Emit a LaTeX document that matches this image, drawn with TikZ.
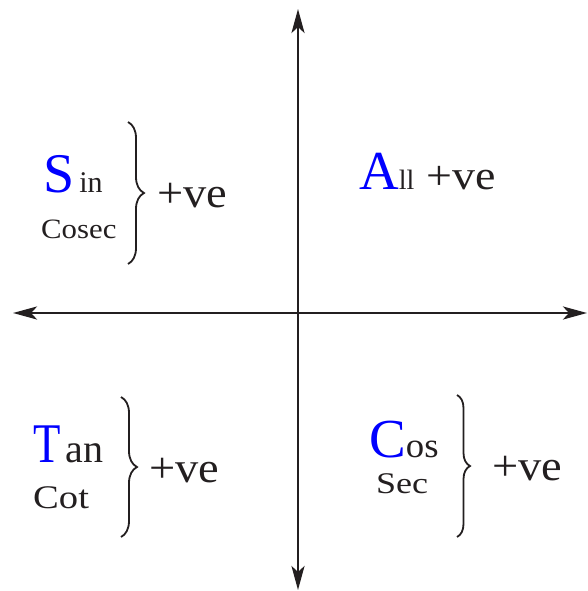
\documentclass[tikz,border=0pt]{standalone}
\usepackage{fontspec}
\setmainfont{Liberation Serif}
\usetikzlibrary{arrows.meta,decorations.pathreplacing}
\definecolor{ink}{HTML}{231F20}
\definecolor{letter}{HTML}{0000FF}
\newcommand{\fs}[2]{\fontsize{#1pt}{#1pt}\selectfont\addfontfeature{FakeStretch=#2}}
\tikzset{
  axis/.style={draw=ink, line width=2.7pt, {Stealth[length=24pt,width=13pt,inset=6pt]}-{Stealth[length=24pt,width=13pt,inset=6pt]}},
  lbl/.style={inner sep=0pt, anchor=base west, text=ink},
  bracebox/.style={draw=ink, line width=1.8pt, decorate, decoration={brace, amplitude=#1}},
}
\begin{document}
\begin{tikzpicture}[x=1pt,y=-1pt]
\useasboundingbox (0,0) rectangle (587,591);
\coordinate (top) at (298,9);
\coordinate (bot) at (298,590);
\coordinate (lft) at (13,313);
\coordinate (rgt) at (587,313);
\draw[axis] (bot) -- (top);
\draw[axis] (lft) -- (rgt);
% Q1
\node[lbl] (sin) at (43,192) {{\fs{56}{1}\color{letter}S}\hspace{5pt}{\fs{30}{1}in}};
\node[lbl] (cosec) at (41,238) {\fs{28}{1.1}Cosec};
\coordinate (b1t) at (128,122);
\coordinate (b1b) at (128,264);
\draw[bracebox=16pt] (b1t) -- (b1b);
\node[lbl] (pv1) at (157,207) {\fs{43}{1.08}+ve};
% Q2
\node[lbl] (all) at (359,189) {{\fs{55}{1}\color{letter}A}{\fs{28}{1}ll}};
\node[lbl] (pv2) at (426,189) {\fs{41}{1.12}+ve};
% Q3
\node[lbl] (tan) at (33,462) {{\fs{56}{0.8}\color{letter}T}\hspace{5pt}{\fs{40}{1}an}};
\node[lbl] (cot) at (33,508) {\fs{33}{1.17}Cot};
\coordinate (b3t) at (121,397);
\coordinate (b3b) at (121,537);
\draw[bracebox=16pt] (b3t) -- (b3b);
\node[lbl] (pv3) at (149,482) {\fs{43}{1.08}+ve};
% Q4
\node[lbl] (cos) at (369,457) {{\fs{55}{1}\color{letter}C}{\fs{35}{1.05}os}};
\node[lbl] (sec) at (376,493) {\fs{30}{1.2}Sec};
\coordinate (b4t) at (457,395);
\coordinate (b4b) at (457,537);
\draw[bracebox=13pt] (b4t) -- (b4b);
\node[lbl] (pv4) at (492,480) {\fs{43}{1.08}+ve};
\end{tikzpicture}
\end{document}
